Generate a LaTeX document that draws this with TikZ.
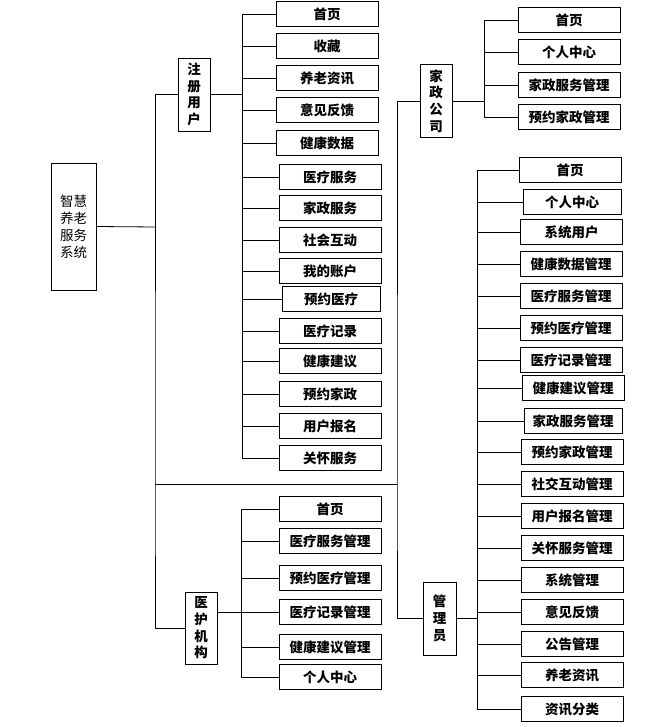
\documentclass[tikz,border=0pt]{standalone}
\usepackage{fontspec}
\newfontfamily\cjk{Noto Sans CJK SC}
\begin{document}
\begin{tikzpicture}[x=1pt, y=-1pt, line width=0.8pt,
  every node/.style={font=\cjk\bfseries\fontsize{13.5}{16.7}\selectfont},
  leaf/.style={draw, minimum width=102pt, minimum height=24.5pt, inner sep=0pt},
  stem/.style={draw, minimum width=32pt, minimum height=73pt, inner sep=0pt, align=center}]
  \useasboundingbox (0,0) rectangle (653,727);
  % root
  \node[draw, minimum width=45pt, minimum height=127pt, inner sep=0pt, align=center,
    font=\cjk\fontsize{13.5}{17}\selectfont] (xt) at (73.5,226.5) {智慧\\养老\\服务\\系统};
  \node[stem] (zc) at (194,94.5) {注\\册\\用\\户};
  \node[stem] (jz) at (436,101) {家\\政\\公\\司};
  \node[stem, minimum width=33pt] (gl) at (439.5,618.5) {管\\理\\员};
  \node[stem, minimum height=72pt] (yh) at (201,628) {医\\护\\机\\构};
  % 注册用户
  \node[leaf] (zc1) at (327,14) {首页};
  \node[leaf] (zc2) at (327,46) {收藏};
  \node[leaf] (zc3) at (327,78) {养老资讯};
  \node[leaf] (zc4) at (327,110) {意见反馈};
  \node[leaf] (zc5) at (327,143) {健康数据};
  \node[leaf] (zc6) at (330,177) {医疗服务};
  \node[leaf] (zc7) at (330,208) {家政服务};
  \node[leaf] (zc8) at (330,240) {社会互动};
  \node[leaf] (zc9) at (330,271) {我的账户};
  \node[leaf, minimum width=98pt] (zc10) at (331,299) {预约医疗};
  \node[leaf] (zc11) at (330,331) {医疗记录};
  \node[leaf] (zc12) at (330,361) {健康建议};
  \node[leaf] (zc13) at (330,394) {预约家政};
  \node[leaf] (zc14) at (330,426) {用户报名};
  \node[leaf] (zc15) at (330,458) {关怀服务};
  % 家政公司
  \node[leaf] (jz1) at (569,20) {首页};
  \node[leaf] (jz2) at (569,52) {个人中心};
  \node[leaf] (jz3) at (569,85) {家政服务管理};
  \node[leaf] (jz4) at (569,117) {预约家政管理};
  % 管理员
  \node[leaf] (gl1) at (570,170) {首页};
  \node[leaf, minimum width=98pt] (gl2) at (572,202) {个人中心};
  \node[leaf] (gl3) at (571.5,232) {系统用户};
  \node[leaf] (gl4) at (571,264) {健康数据管理};
  \node[leaf] (gl5) at (571,296) {医疗服务管理};
  \node[leaf] (gl6) at (571,328) {预约医疗管理};
  \node[leaf] (gl7) at (571,360) {医疗记录管理};
  \node[leaf] (gl8) at (573,388) {健康建议管理};
  \node[leaf, minimum width=98pt] (gl9) at (573,421) {家政服务管理};
  \node[leaf] (gl10) at (572,452) {预约家政管理};
  \node[leaf] (gl11) at (572,484) {社交互动管理};
  \node[leaf] (gl12) at (572,516) {用户报名管理};
  \node[leaf] (gl13) at (572,548) {关怀服务管理};
  \node[leaf] (gl14) at (572,580) {系统管理};
  \node[leaf] (gl15) at (572,612) {意见反馈};
  \node[leaf] (gl16) at (572,644) {公告管理};
  \node[leaf] (gl17) at (572,675) {养老资讯};
  \node[leaf] (gl18) at (572,709) {资讯分类};
  % 医护机构
  \node[leaf] (yh1) at (330,509) {首页};
  \node[leaf] (yh2) at (330,541) {医疗服务管理};
  \node[leaf] (yh3) at (330,578) {预约医疗管理};
  \node[leaf] (yh4) at (330,612) {医疗记录管理};
  \node[leaf] (yh5) at (330,647) {健康建议管理};
  \node[leaf] (yh6) at (330,677) {个人中心};
  % trunks
  \coordinate (j1) at (155,227);
  \coordinate (j2) at (155,484);
  \coordinate (j3) at (397,484);
  \draw (xt.east) -- (j1);
  \draw (zc.west) -| (j2) |- (yh.west);
  \draw (j2) -- (j3);
  \draw (jz.west) -| (j3) |- (gl.west);
  % branches
  \coordinate (tzc) at (242,0);
  \coordinate (tjz) at (484,0);
  \coordinate (tgl) at (477,0);
  \coordinate (tyh) at (241,0);
  \draw (zc.east) -- (zc.east -| tzc);
  \draw (zc1.west -| tzc) -- (zc15.west -| tzc);
  \foreach \n in {1,...,15} \draw (zc\n.west) -- (zc\n.west -| tzc);
  \draw (jz.east) -- (jz.east -| tjz);
  \draw (jz1.west -| tjz) -- (jz4.west -| tjz);
  \foreach \n in {1,...,4} \draw (jz\n.west) -- (jz\n.west -| tjz);
  \draw (gl.east) -- (gl.east -| tgl);
  \draw (gl1.west -| tgl) -- (gl18.west -| tgl);
  \foreach \n in {1,...,18} \draw (gl\n.west) -- (gl\n.west -| tgl);
  \draw (yh4.west -| yh.east) -- (yh4.west -| tyh);
  \draw (yh1.west -| tyh) -- (yh6.west -| tyh);
  \foreach \n in {1,...,6} \draw (yh\n.west) -- (yh\n.west -| tyh);
\end{tikzpicture}
\end{document}
